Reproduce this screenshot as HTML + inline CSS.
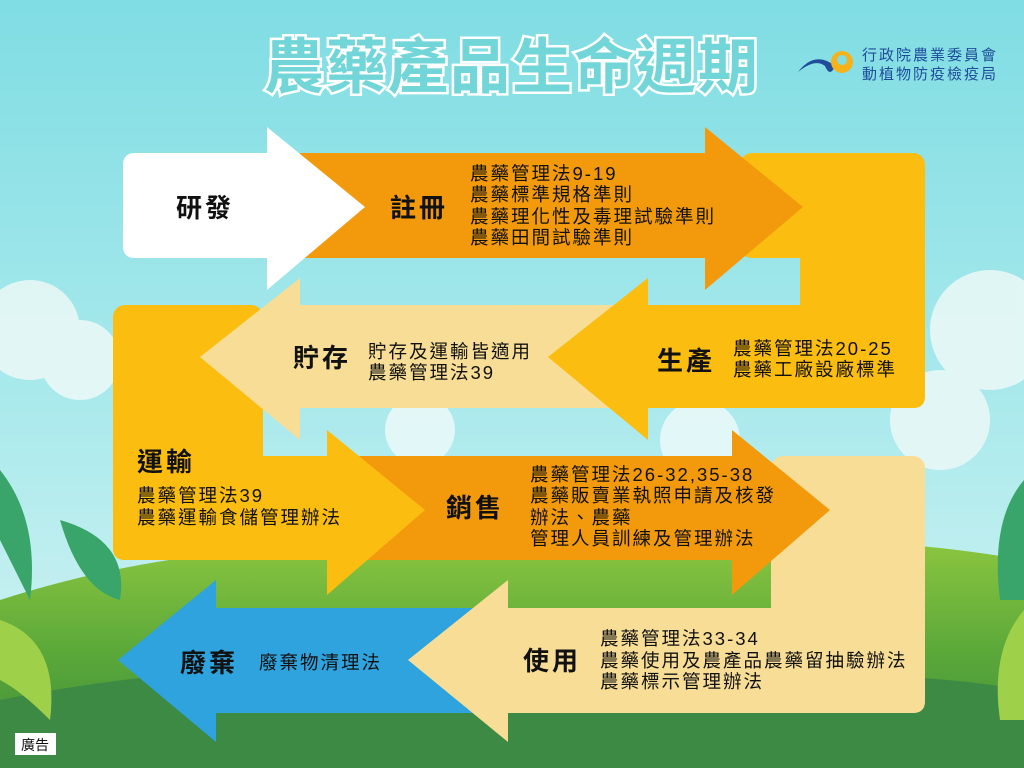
<!DOCTYPE html>
<html><head><meta charset="utf-8"><style>
html,body{margin:0;padding:0;width:1024px;height:768px;overflow:hidden}
svg text{font-family:"Liberation Sans","Noto Sans CJK TC",sans-serif}
</style></head><body>
<svg width="1024" height="768" viewBox="0 0 1024 768" xmlns="http://www.w3.org/2000/svg">
<defs>
<linearGradient id="sky" x1="0" y1="0" x2="0" y2="1">
<stop offset="0" stop-color="#7fdde3"/><stop offset="0.5" stop-color="#a8e9ec"/><stop offset="1" stop-color="#d8f4f3"/>
</linearGradient>
<linearGradient id="grass" x1="0" y1="0" x2="0" y2="1">
<stop offset="0" stop-color="#8cc63f"/><stop offset="0.5" stop-color="#5aa83a"/><stop offset="1" stop-color="#3e8a3a"/>
</linearGradient>
</defs>
<rect width="1024" height="768" fill="url(#sky)"/>
<g fill="#e8f8f7" opacity="0.9">
<circle cx="30" cy="330" r="50"/><circle cx="80" cy="360" r="40"/><circle cx="990" cy="330" r="60"/><circle cx="940" cy="420" r="50"/>
<circle cx="700" cy="440" r="40"/><circle cx="420" cy="430" r="35"/>
</g>
<path d="M0 600 Q250 520 520 560 Q800 520 1024 560 L1024 768 L0 768 Z" fill="url(#grass)"/>
<path d="M0 700 Q300 640 600 690 Q850 660 1024 690 L1024 768 L0 768Z" fill="#3d8a45"/>
<g fill="#3aa56a"><path d="M0 470 Q40 520 30 600 Q10 560 0 540Z"/><path d="M60 520 Q130 540 120 600 Q80 590 60 520Z"/><path d="M1024 480 Q990 520 1000 600 L1024 600Z"/></g>
<g fill="#9fd04a"><path d="M0 620 Q60 640 50 720 Q20 690 0 680Z"/><path d="M1024 610 Q990 650 1000 720 L1024 720Z"/></g>

<text x="512" y="88" text-anchor="middle" font-size="60" font-weight="bold" fill="#72d5d8" stroke="#ffffff" stroke-width="5" paint-order="stroke" letter-spacing="2">農藥產品生命週期</text>
<path d="M798 72 Q815 50 835 66 Q830 78 825 66 Q815 58 798 72Z" fill="#1f4d9a"/>
<circle cx="842" cy="62" r="11" fill="#f5b21a"/><circle cx="842" cy="60" r="5" fill="#80dde2"/>
<text x="862" y="60" font-size="15" fill="#1f4d9a" letter-spacing="2">行政院農業委員會</text>
<text x="862" y="79" font-size="15" fill="#1f4d9a" letter-spacing="2">動植物防疫檢疫局</text>

<rect x="740" y="153" width="185" height="105" rx="12" fill="#fbbd0f"/>
<rect x="800" y="153" width="125" height="255" rx="12" fill="#fbbd0f"/>
<rect x="113" y="305" width="150" height="255" rx="12" fill="#fbbd0f"/>
<rect x="771" y="456" width="154" height="257" rx="12" fill="#f7dd95"/>

<polygon points="300,153 705,153 705,127 803,207 705,290 705,258 300,258" fill="#f39a0c"/>
<path d="M135 153 L267 153 L267 127 L365 207 L267 290 L267 258 L135 258 Q123 258 123 246 L123 165 Q123 153 135 153Z" fill="#ffffff"/>

<polygon points="648,305 300,305 300,278 200,357 300,440 300,408 648,408" fill="#f7dd95"/>
<path d="M648 305 L913 305 Q925 305 925 317 L925 396 Q925 408 913 408 L648 408 L648 440 L548 357 L648 278Z" fill="#fbbd0f"/>

<polygon points="353,456 732,456 732,430 830,510 732,595 732,560 353,560" fill="#f39a0c"/>
<path d="M113 456 L327 456 L327 430 L425 510 L327 595 L327 560 L125 560 Q113 560 113 548Z" fill="#fbbd0f"/>

<polygon points="490,608 216,608 216,580 118,660 216,742 216,713 490,713" fill="#2ea3dd"/>
<path d="M508 608 L913 608 Q925 608 925 620 L925 701 Q925 713 913 713 L508 713 L508 742 L408 660 L508 580Z" fill="#f7dd95"/>

<g font-weight="bold" font-size="26" fill="#111" letter-spacing="3">
<text x="176" y="217">研發</text>
<text x="390" y="217">註冊</text>
<text x="293" y="367">貯存</text>
<text x="657" y="370">生產</text>
<text x="137" y="471">運輸</text>
<text x="446" y="517">銷售</text>
<text x="180" y="672">廢棄</text>
<text x="523" y="670">使用</text>
</g>
<g font-size="18.5" fill="#111" letter-spacing="2">
<text x="470" y="180">農藥管理法9-19</text>
<text x="470" y="201">農藥標準規格準則</text>
<text x="470" y="223">農藥理化性及毒理試驗準則</text>
<text x="470" y="244">農藥田間試驗準則</text>
<text x="368" y="358">貯存及運輸皆適用</text>
<text x="368" y="379">農藥管理法39</text>
<text x="733" y="355">農藥管理法20-25</text>
<text x="733" y="376">農藥工廠設廠標準</text>
<text x="137" y="502">農藥管理法39</text>
<text x="137" y="524">農藥運輸食儲管理辦法</text>
<text x="530" y="481">農藥管理法26-32,35-38</text>
<text x="530" y="502">農藥販賣業執照申請及核發</text>
<text x="530" y="524">辦法、農藥</text>
<text x="530" y="545">管理人員訓練及管理辦法</text>
<text x="259" y="669">廢棄物清理法</text>
<text x="600" y="645">農藥管理法33-34</text>
<text x="600" y="667">農藥使用及農產品農藥留抽驗辦法</text>
<text x="600" y="688">農藥標示管理辦法</text>
</g>
<rect x="15" y="733" width="41" height="22" fill="#fff"/>
<text x="35" y="750" text-anchor="middle" font-size="14" fill="#111">廣告</text>
</svg>
</body></html>
